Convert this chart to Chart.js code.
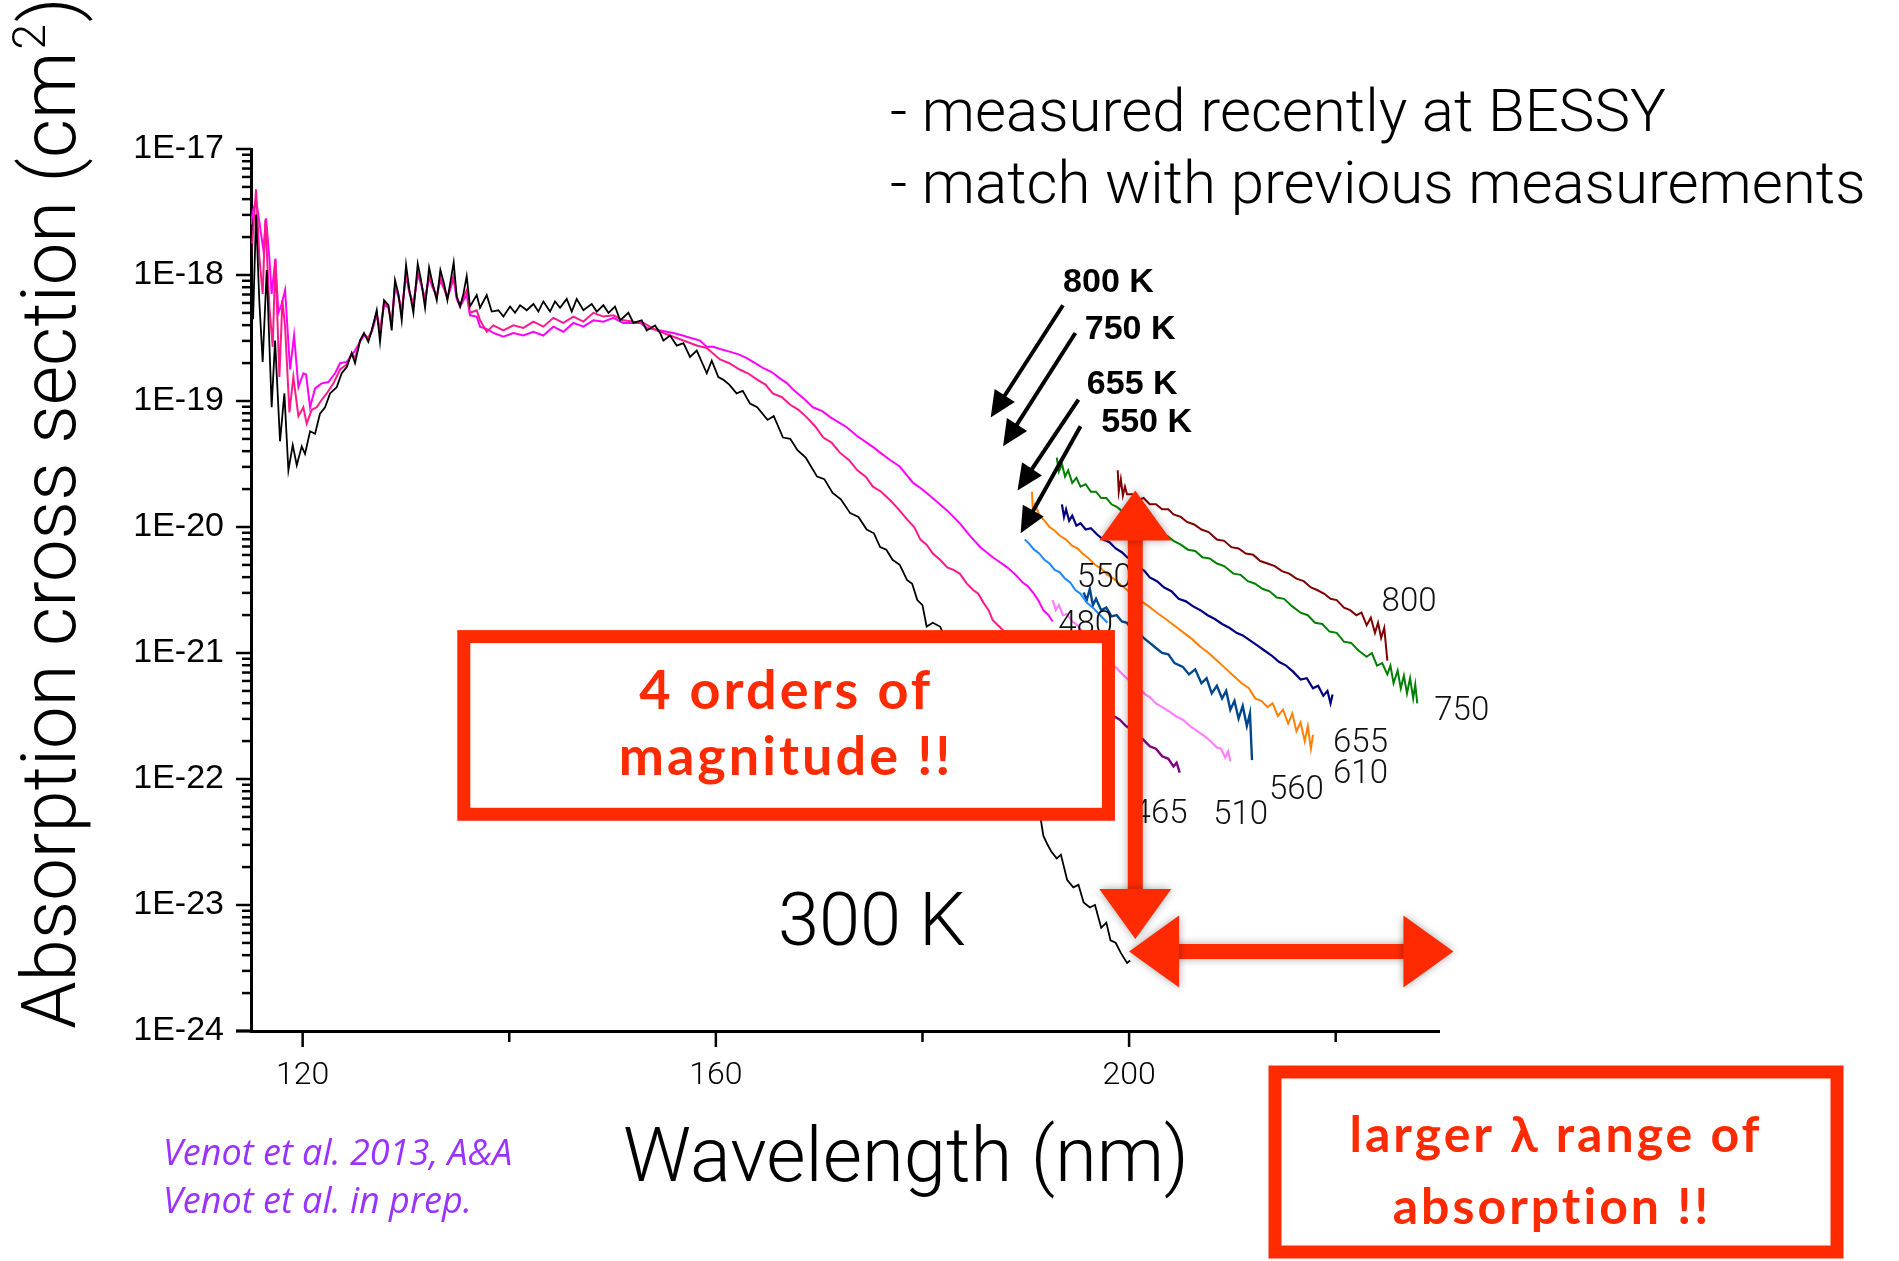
<!DOCTYPE html>
<html>
<head>
<meta charset="utf-8">
<script src="https://cdn.jsdelivr.net/npm/chart.js@4.4.1/dist/chart.umd.min.js"></script>
<style>
  body { margin: 0; background: #fff; }
  #wrap { width: 1899px; height: 1261px; position: relative; }
</style>
</head>
<body>
<div id="wrap"><canvas id="c"></canvas></div>
<script>
// wavelength (nm), log10(cross section / cm2)
const k300 = [[115.0,-17.75],[115.07,-18.20],[115.2,-18.35],[115.49,-17.52],[115.8,-18.2],[116.13,-18.69],[116.52,-17.96],[117.0,-19.05],[117.33,-18.52],[117.81,-19.32],[118.23,-18.94],[118.62,-19.55],[119.04,-19.35],[119.43,-19.51],[119.91,-19.36],[120.23,-19.42],[120.72,-19.24],[121.2,-19.26],[121.68,-19.10],[122.17,-19.05],[122.65,-18.94],[123.3,-18.89],[123.78,-18.78],[124.27,-18.73],[124.75,-18.62],[125.07,-18.70],[125.56,-18.52],[125.94,-18.46],[126.36,-18.53],[126.69,-18.44],[127.17,-18.28],[127.49,-18.53],[127.88,-18.20],[128.30,-18.24],[128.62,-18.44],[128.94,-18.04],[129.27,-18.15],[129.59,-18.36],[130.01,-17.92],[130.33,-18.12],[130.72,-18.30],[131.14,-17.91],[131.46,-18.04],[131.85,-18.26],[132.24,-17.94],[132.59,-18.07],[132.98,-18.20],[133.33,-17.96],[133.69,-18.07],[134.01,-18.20],[134.62,-17.90],[134.91,-18.17],[135.24,-18.25],[135.56,-18.15],[135.88,-18.01],[136.2,-18.25],[136.85,-18.16],[137.17,-18.26],[137.82,-18.16],[138.3,-18.29],[138.95,-18.28],[139.43,-18.33],[140.08,-18.25],[140.56,-18.30],[141.05,-18.24],[141.69,-18.28],[142.34,-18.23],[142.82,-18.29],[143.3,-18.21],[143.95,-18.29],[144.43,-18.21],[144.92,-18.26],[145.56,-18.19],[146.05,-18.29],[146.53,-18.19],[147.18,-18.28],[147.98,-18.23],[148.47,-18.29],[149.11,-18.24],[149.6,-18.30],[150.24,-18.25],[150.73,-18.36],[151.53,-18.30],[152.02,-18.38],[152.82,-18.36],[153.31,-18.44],[154.11,-18.40],[154.6,-18.46],[154.92,-18.52],[155.57,-18.48],[156.21,-18.56],[156.86,-18.54],[157.5,-18.65],[158.15,-18.60],[159.12,-18.78],[159.6,-18.68],[160.24,-18.81],[160.7,-18.83],[161.3,-18.87],[162.0,-18.94],[162.6,-18.92],[163.3,-19.02],[164.0,-19.05],[165.0,-19.15],[165.6,-19.12],[166.5,-19.29],[167.2,-19.30],[167.9,-19.39],[168.7,-19.45],[169.8,-19.60],[170.5,-19.62],[171.3,-19.73],[172.1,-19.78],[173.0,-19.89],[173.8,-19.92],[174.6,-20.02],[175.3,-20.05],[175.9,-20.16],[176.5,-20.18],[177.1,-20.26],[177.8,-20.30],[178.5,-20.42],[179.0,-20.45],[179.5,-20.58],[180.0,-20.62],[180.4,-20.79],[181.0,-20.76],[181.7,-20.79],[182.0,-20.84],[183,-20.98],[184,-21.14],[185,-21.27],[186,-21.46],[187,-21.61],[188,-21.82],[189,-21.96],[190,-22.16],[190.9,-22.30],[191.3,-22.24],[191.7,-22.45],[192.1,-22.52],[192.5,-22.58],[193.0,-22.63],[193.4,-22.60],[194.0,-22.80],[194.6,-22.86],[195.1,-22.84],[195.6,-22.98],[196.2,-23.02],[196.7,-23.00],[197.3,-23.18],[197.8,-23.14],[198.2,-23.28],[198.7,-23.30],[199.2,-23.38],[199.8,-23.46],[200.1,-23.44]];

const kPink = [[115.0,-17.9],[115.17,-17.70],[115.49,-17.32],[115.81,-17.86],[116.13,-18.15],[116.39,-17.56],[116.78,-18.25],[117.1,-18.57],[117.36,-17.88],[117.75,-18.81],[118.04,-18.20],[118.3,-18.41],[118.72,-19.09],[119.1,-18.81],[119.59,-19.12],[120.07,-19.05],[120.39,-19.18],[120.88,-19.07],[121.36,-19.05],[121.85,-18.99],[122.33,-18.94],[122.98,-18.86],[123.62,-18.75],[124.27,-18.71],[124.75,-18.62],[125.07,-18.66],[125.56,-18.52],[125.94,-18.47],[126.36,-18.50],[126.69,-18.44],[127.17,-18.30],[127.49,-18.45],[127.88,-18.22],[128.30,-18.25],[128.62,-18.38],[128.94,-18.08],[129.27,-18.16],[129.59,-18.30],[130.01,-17.98],[130.33,-18.13],[130.72,-18.24],[131.14,-17.98],[131.46,-18.06],[131.85,-18.20],[132.24,-18.00],[132.59,-18.09],[132.98,-18.17],[133.33,-18.02],[133.69,-18.10],[134.01,-18.18],[134.62,-18.00],[134.91,-18.17],[135.24,-18.24],[135.56,-18.18],[135.88,-18.12],[136.2,-18.30],[136.85,-18.28],[137.17,-18.36],[137.82,-18.45],[138.46,-18.40],[139.43,-18.44],[140.4,-18.40],[141.37,-18.42],[142.34,-18.37],[143.3,-18.41],[144.27,-18.34],[145.24,-18.38],[146.21,-18.33],[147.18,-18.37],[148.14,-18.30],[149.11,-18.33],[150.08,-18.32],[151.05,-18.36],[152.02,-18.37],[152.98,-18.38],[154.27,-18.44],[155.57,-18.48],[156.86,-18.52],[158.15,-18.56],[159.12,-18.58],[160.4,-18.67],[161.3,-18.70],[162.3,-18.75],[163.1,-18.78],[164.0,-18.83],[164.8,-18.87],[165.5,-18.94],[166.4,-18.97],[167.2,-19.03],[168.0,-19.07],[168.8,-19.13],[169.6,-19.20],[170.4,-19.29],[171.2,-19.33],[172.0,-19.41],[172.9,-19.47],[173.7,-19.55],[174.5,-19.60],[175.2,-19.68],[176.0,-19.72],[176.9,-19.79],[177.7,-19.86],[178.5,-19.94],[179.2,-20.00],[179.8,-20.10],[180.4,-20.14],[181.0,-20.21],[181.7,-20.26],[182.4,-20.32],[183.0,-20.34],[183.6,-20.37],[184.3,-20.45],[184.9,-20.50],[185.4,-20.53],[185.9,-20.60],[186.4,-20.66],[186.8,-20.74],[187.3,-20.78],[187.8,-20.82],[188.5,-20.88],[189.2,-20.95],[190.0,-21.02]];

const kMagenta = [[115.0,-17.6],[115.17,-17.50],[115.49,-17.40],[115.88,-17.62],[116.2,-17.80],[116.46,-17.55],[116.78,-17.87],[117.0,-18.15],[117.36,-17.87],[117.65,-18.30],[117.97,-18.23],[118.3,-18.12],[118.78,-18.75],[119.17,-18.48],[119.59,-18.89],[120.07,-18.78],[120.33,-18.79],[120.72,-19.05],[121.2,-18.90],[121.85,-18.86],[122.49,-18.85],[123.14,-18.78],[123.62,-18.70],[124.27,-18.69],[125.07,-18.60],[125.56,-18.53],[125.94,-18.48],[126.36,-18.50],[126.69,-18.45],[127.17,-18.32],[127.49,-18.44],[127.88,-18.24],[128.30,-18.26],[128.62,-18.37],[128.94,-18.10],[129.27,-18.17],[129.59,-18.29],[130.01,-18.00],[130.33,-18.14],[130.72,-18.23],[131.14,-18.00],[131.46,-18.07],[131.85,-18.19],[132.24,-18.02],[132.59,-18.10],[132.98,-18.17],[133.33,-18.04],[133.69,-18.11],[134.01,-18.18],[134.62,-18.03],[134.91,-18.19],[135.24,-18.25],[135.56,-18.20],[135.88,-18.16],[136.2,-18.32],[136.85,-18.33],[137.17,-18.41],[137.82,-18.43],[138.46,-18.46],[139.43,-18.49],[140.4,-18.46],[141.37,-18.48],[142.34,-18.45],[143.3,-18.48],[144.27,-18.41],[145.24,-18.45],[146.21,-18.38],[147.18,-18.41],[148.14,-18.36],[149.11,-18.37],[150.08,-18.34],[151.05,-18.38],[152.02,-18.38],[152.7,-18.38],[153.31,-18.42],[154.6,-18.44],[155.89,-18.46],[156.8,-18.48],[157.18,-18.49],[158.47,-18.52],[159.1,-18.57],[159.76,-18.57],[160.5,-18.59],[161.4,-18.61],[162.2,-18.63],[163.0,-18.66],[163.8,-18.70],[164.6,-18.74],[165.4,-18.77],[166.2,-18.82],[166.9,-18.86],[167.5,-18.91],[168.5,-18.98],[169.4,-19.05],[170.3,-19.08],[171.1,-19.13],[171.9,-19.17],[172.7,-19.21],[173.7,-19.28],[174.6,-19.33],[175.3,-19.37],[175.9,-19.41],[176.9,-19.47],[177.8,-19.52],[178.5,-19.59],[179.1,-19.65],[179.8,-19.69],[180.4,-19.73],[181.4,-19.80],[182.4,-19.87],[183.0,-19.92],[183.6,-19.97],[184.6,-20.07],[185.6,-20.16],[186.2,-20.20],[186.8,-20.24],[187.5,-20.28],[188.2,-20.32],[188.9,-20.37],[189.7,-20.44],[190.2,-20.47],[190.7,-20.52],[191.2,-20.58],[191.7,-20.66],[192.2,-20.70],[192.6,-20.75]];

const k750 = [[193.0,-19.45],[193.2,-19.56],[193.5,-19.50],[193.8,-19.60],[194.1,-19.55],[194.5,-19.65],[194.9,-19.61],[195.3,-19.68],[195.8,-19.66],[196.3,-19.72],[196.8,-19.72],[197.3,-19.77],[197.8,-19.77],[198.3,-19.82],[198.8,-19.84],[199.4,-19.88],[200.0,-19.90],[200.6,-19.95],[201.2,-19.96],[201.8,-20.01],[202.4,-20.02],[203.0,-20.06],[203.7,-20.07],[204.3,-20.11],[205.0,-20.14],[205.7,-20.18],[206.4,-20.19],[207.1,-20.24],[207.8,-20.25],[208.5,-20.29],[209.2,-20.31],[210.1,-20.37],[210.8,-20.38],[211.5,-20.43],[212.2,-20.45],[212.9,-20.49],[213.6,-20.51],[214.3,-20.56],[215.0,-20.57],[215.8,-20.63],[216.6,-20.68],[217.3,-20.70],[218.0,-20.76],[218.7,-20.77],[219.4,-20.83],[220.1,-20.84],[220.8,-20.91],[221.5,-20.92],[222.2,-20.98],[223.0,-21.03],[223.5,-21.00],[224.0,-21.10],[224.5,-21.08],[225.0,-21.17],[225.3,-21.10],[225.6,-21.24],[226.0,-21.14],[226.3,-21.28],[226.6,-21.18],[226.9,-21.32],[227.2,-21.20],[227.5,-21.36],[227.7,-21.25],[227.9,-21.40]];

const k800 = [[198.9,-19.55],[199.0,-19.72],[199.2,-19.62],[199.4,-19.75],[199.6,-19.68],[199.8,-19.74],[200.3,-19.74],[200.8,-19.79],[201.4,-19.77],[202.0,-19.82],[202.6,-19.82],[203.2,-19.86],[203.8,-19.86],[204.3,-19.90],[205.0,-19.92],[205.6,-19.96],[206.3,-19.98],[207.0,-20.02],[207.7,-20.04],[208.5,-20.10],[209.2,-20.11],[209.9,-20.16],[210.6,-20.17],[211.3,-20.21],[212.0,-20.22],[212.7,-20.27],[213.4,-20.29],[214.1,-20.31],[214.8,-20.35],[215.5,-20.37],[216.2,-20.41],[216.9,-20.43],[217.6,-20.48],[218.2,-20.50],[218.9,-20.53],[219.5,-20.57],[220.1,-20.58],[220.8,-20.64],[221.4,-20.66],[222.0,-20.70],[222.5,-20.68],[223.0,-20.78],[223.4,-20.72],[223.8,-20.84],[224.1,-20.76],[224.4,-20.88],[224.7,-20.80],[225.0,-21.06]];

const k655 = [[193.5,-19.82],[193.7,-19.92],[193.9,-19.86],[194.2,-19.95],[194.5,-19.91],[194.9,-19.99],[195.3,-19.97],[195.8,-20.02],[196.3,-20.01],[196.9,-20.06],[197.5,-20.10],[198.1,-20.12],[198.7,-20.17],[199.3,-20.20],[199.8,-20.24],[200.4,-20.27],[201.0,-20.32],[201.5,-20.35],[202.0,-20.40],[202.7,-20.43],[203.4,-20.48],[204.1,-20.51],[204.8,-20.57],[205.5,-20.59],[206.2,-20.63],[206.9,-20.66],[207.6,-20.70],[208.3,-20.73],[209.0,-20.77],[209.7,-20.80],[210.4,-20.84],[211.0,-20.86],[211.7,-20.90],[212.4,-20.94],[213.1,-20.98],[213.8,-21.02],[214.5,-21.07],[215.2,-21.10],[215.9,-21.15],[216.6,-21.21],[217.2,-21.20],[217.8,-21.28],[218.3,-21.26],[218.8,-21.34],[219.2,-21.30],[219.5,-21.40],[219.7,-21.33]];

const k610 = [[190.6,-19.72],[190.7,-19.90],[190.9,-19.82],[191.3,-19.90],[191.8,-19.95],[192.3,-20.00],[192.8,-20.03],[193.3,-20.07],[193.9,-20.10],[194.5,-20.15],[195.0,-20.17],[195.5,-20.21],[196.1,-20.25],[196.7,-20.30],[197.3,-20.33],[197.9,-20.38],[198.5,-20.41],[199.2,-20.46],[199.8,-20.50],[200.5,-20.55],[201.2,-20.59],[201.9,-20.63],[202.7,-20.68],[203.7,-20.74],[204.5,-20.79],[205.3,-20.84],[206.1,-20.89],[206.9,-20.95],[207.7,-21.00],[208.5,-21.06],[209.3,-21.12],[210.1,-21.18],[210.9,-21.24],[211.6,-21.28],[212.2,-21.36],[212.8,-21.38],[213.4,-21.43],[213.9,-21.40],[214.4,-21.50],[214.9,-21.45],[215.4,-21.56],[215.8,-21.48],[216.2,-21.62],[216.6,-21.55],[217.0,-21.70],[217.3,-21.58],[217.6,-21.76],[217.8,-21.65]];

const k550 = [[189.9,-20.10],[190.3,-20.13],[190.8,-20.18],[191.3,-20.21],[191.8,-20.26],[192.3,-20.29],[192.8,-20.34],[193.3,-20.36],[193.8,-20.41],[194.3,-20.44],[194.8,-20.50],[195.3,-20.53],[195.9,-20.60],[196.5,-20.64],[197.2,-20.70],[197.9,-20.76]];

const k560 = [[195.6,-20.52],[195.9,-20.58],[196.2,-20.49],[196.5,-20.62],[196.8,-20.57],[197.3,-20.66],[197.8,-20.64],[198.3,-20.71],[198.8,-20.70],[199.3,-20.75],[199.8,-20.76],[200.3,-20.82],[200.8,-20.83],[201.4,-20.88],[202.0,-20.92],[202.6,-20.96],[203.2,-21.00],[203.8,-21.01],[204.4,-21.08],[205.2,-21.11],[205.8,-21.17],[206.4,-21.13],[207.0,-21.24],[207.5,-21.20],[208.0,-21.32],[208.5,-21.26],[209.0,-21.36],[209.4,-21.30],[209.8,-21.45],[210.2,-21.38],[210.6,-21.52],[211.0,-21.42],[211.4,-21.58],[211.7,-21.48],[211.9,-21.85]];

const k510 = [[192.6,-20.58],[192.9,-20.66],[193.2,-20.62],[193.6,-20.70],[194.0,-20.69],[194.5,-20.75],[195.0,-20.78],[195.6,-20.84],[196.2,-20.90],[196.8,-20.95],[197.4,-21.01],[198.2,-21.08],[198.8,-21.12],[199.5,-21.18],[200.3,-21.24],[201.0,-21.28],[201.6,-21.33],[202.0,-21.35],[202.6,-21.40],[203.2,-21.43],[203.8,-21.46],[204.5,-21.50],[205.2,-21.53],[205.9,-21.58],[206.6,-21.62],[207.3,-21.66],[207.9,-21.70],[208.5,-21.75],[208.9,-21.76],[209.3,-21.83],[209.6,-21.78],[209.8,-21.86]];

const k465 = [[195.0,-21.25],[195.8,-21.31],[196.6,-21.36],[197.3,-21.41],[197.9,-21.45],[198.5,-21.50],[199.1,-21.53],[199.7,-21.58],[200.3,-21.61],[201.0,-21.66],[201.4,-21.69],[202.0,-21.74],[202.6,-21.76],[203.2,-21.82],[203.8,-21.84],[204.3,-21.90],[204.6,-21.87],[204.9,-21.95]];

const yDecades = [-24, -23, -22, -21, -20, -19, -18, -17];
const xTicks = [120, 140, 160, 180, 200, 220];
const xLabels = [120, 160, 200];

// end labels [text, nm, log10 value]
const curveLabels = [['800',227.1,-20.60],['750',232.2,-21.47],['655',222.4,-21.72],['610',222.4,-21.97],['560',216.2,-22.09],['510',210.8,-22.29],['465',203.0,-22.28],['550',197.6,-20.41],['480',195.8,-20.78]];
const tempLabels = [['800 K',198.0,-18.06],['750 K',200.1,-18.43],['655 K',200.3,-18.87],['550 K',201.7,-19.17]];
// black arrows: tail nm, tail log, tip nm, tip log
const tempArrows = [[193.6,-18.24,186.6,-19.13],[194.8,-18.46,187.8,-19.36],[195.1,-18.99,189.2,-19.71],[195.3,-19.20,189.5,-20.05]];

const RED = '#ff2a00';
const LIGHT = "'Roboto', 'Liberation Sans', sans-serif";

function pts(arr) {
  return arr.map(p => ({ x: p[0], y: Math.pow(10, p[1]) }));
}

function line(label, arr, color, w) {
  return { label: label, data: pts(arr), borderColor: color, backgroundColor: color, borderWidth: w, pointRadius: 0, showLine: true, tension: 0 };
}

function arrowHead(ctx, x1, y1, x2, y2, len, half) {
  const a = Math.atan2(y2 - y1, x2 - x1);
  ctx.beginPath();
  ctx.moveTo(x2, y2);
  ctx.lineTo(x2 - len * Math.cos(a) + half * Math.sin(a), y2 - len * Math.sin(a) - half * Math.cos(a));
  ctx.lineTo(x2 - len * Math.cos(a) - half * Math.sin(a), y2 - len * Math.sin(a) + half * Math.cos(a));
  ctx.closePath();
  ctx.fill();
}

function redArrow(ctx, x1, y1, x2, y2) {
  const a = Math.atan2(y2 - y1, x2 - x1);
  const len = 50;
  ctx.beginPath();
  ctx.moveTo(x1 + len * 0.6 * Math.cos(a), y1 + len * 0.6 * Math.sin(a));
  ctx.lineTo(x2 - len * 0.6 * Math.cos(a), y2 - len * 0.6 * Math.sin(a));
  ctx.stroke();
  arrowHead(ctx, x1, y1, x2, y2, len, 36);
  arrowHead(ctx, x2, y2, x1, y1, len, 36);
}

const notes = {
  id: 'notes',
  afterDatasetsDraw(chart) {
    const ctx = chart.ctx;
    const xs = chart.scales.x, ys = chart.scales.y;
    const px = v => xs.getPixelForValue(v);
    const py = e => ys.getPixelForValue(Math.pow(10, e));

    // ticks drawn by hand (major / minor)
    ctx.save();
    ctx.strokeStyle = '#000';
    ctx.lineWidth = 2.5;
    const left = chart.chartArea.left, bottom = chart.chartArea.bottom;
    yDecades.forEach(e => {
      ctx.beginPath(); ctx.moveTo(left - 15, py(e)); ctx.lineTo(left, py(e)); ctx.stroke();
      if (e < -17) {
        for (let k = 2; k <= 9; k++) {
          const yy = py(e + Math.log10(k));
          ctx.beginPath(); ctx.moveTo(left - 9, yy); ctx.lineTo(left, yy); ctx.stroke();
        }
      }
    });
    xTicks.forEach(v => {
      const l = xLabels.includes(v) ? 16 : 11;
      ctx.beginPath(); ctx.moveTo(px(v), bottom); ctx.lineTo(px(v), bottom + l); ctx.stroke();
    });
    ctx.lineWidth = 3;
    ctx.beginPath(); ctx.moveTo(left - 15, bottom); ctx.lineTo(left, bottom); ctx.stroke();
    ctx.restore();

    // curve labels
    ctx.save();
    ctx.fillStyle = '#111';
    ctx.font = '300 33px ' + LIGHT;
    ctx.textAlign = 'center';
    ctx.textBaseline = 'middle';
    curveLabels.forEach(l => ctx.fillText(l[0], px(l[1]), py(l[2])));

    // "4 orders of magnitude" box
    const bx1 = px(135.6), bx2 = px(198.0), by1 = py(-20.87), by2 = py(-22.28);
    ctx.fillStyle = '#fff';
    ctx.fillRect(bx1, by1, bx2 - bx1, by2 - by1);
    ctx.strokeStyle = RED;
    ctx.lineWidth = 13;
    ctx.strokeRect(bx1, by1, bx2 - bx1, by2 - by1);
    ctx.fillStyle = RED;
    ctx.font = 'bold 54px Lato, sans-serif';
    ctx.letterSpacing = '3px';
    ctx.fillText('4 orders of', (bx1 + bx2) / 2, py(-21.31));
    ctx.fillText('magnitude !!', (bx1 + bx2) / 2, py(-21.83));
    ctx.letterSpacing = '0px';

    // 300 K
    ctx.fillStyle = '#000';
    ctx.font = '300 74px ' + LIGHT;
    ctx.fillText('300 K', px(175.1), py(-23.17));

    // red double arrows
    ctx.shadowColor = 'rgba(0,0,0,0.35)';
    ctx.shadowBlur = 8;
    ctx.strokeStyle = RED;
    ctx.fillStyle = RED;
    ctx.lineWidth = 15;
    redArrow(ctx, px(200.6), py(-23.27), px(200.6), py(-19.71));
    redArrow(ctx, px(200.0), py(-23.37), px(231.4), py(-23.37));
    ctx.shadowBlur = 0;
    ctx.shadowColor = 'transparent';

    // temperature arrows and labels
    ctx.strokeStyle = '#000';
    ctx.fillStyle = '#000';
    ctx.lineWidth = 4;
    tempArrows.forEach(a => {
      const x1 = px(a[0]), y1 = py(a[1]), x2 = px(a[2]), y2 = py(a[3]);
      const ang = Math.atan2(y2 - y1, x2 - x1);
      ctx.beginPath();
      ctx.moveTo(x1, y1);
      ctx.lineTo(x2 - 18 * Math.cos(ang), y2 - 18 * Math.sin(ang));
      ctx.stroke();
      arrowHead(ctx, x1, y1, x2, y2, 26, 12);
    });
    ctx.font = "bold 34px 'Liberation Sans', Arial, sans-serif";
    tempLabels.forEach(l => ctx.fillText(l[0], px(l[1]), py(l[2])));
    ctx.restore();
  },
  afterDraw(chart) {
    const ctx = chart.ctx;
    ctx.save();
    ctx.fillStyle = '#000';
    // axis titles
    ctx.font = '300 76px ' + LIGHT;
    ctx.textAlign = 'center';
    ctx.textBaseline = 'alphabetic';
    ctx.fillText('Wavelength (nm)', 906, 1181);
    ctx.save();
    ctx.translate(75, 1029);
    ctx.rotate(-Math.PI / 2);
    ctx.textAlign = 'left';
    const main = 'Absorption cross section (cm';
    ctx.fillText(main, 0, 0);
    let w = ctx.measureText(main).width;
    ctx.font = '300 46px ' + LIGHT;
    ctx.fillText('2', w + 2, -30);
    w += ctx.measureText('2').width + 4;
    ctx.font = '300 76px ' + LIGHT;
    ctx.fillText(')', w, 0);
    ctx.restore();

    // bullets top right
    ctx.textAlign = 'left';
    ctx.font = '300 60px ' + LIGHT;
    ctx.fillText('- measured recently at BESSY', 890, 131);
    ctx.fillText('- match with previous measurements', 890, 203);

    // references
    ctx.fillStyle = '#9933ff';
    ctx.font = "italic 36px 'Open Sans', sans-serif";
    ctx.fillText('Venot et al. 2013, A&A', 163, 1165);
    ctx.fillText('Venot et al. in prep.', 163, 1213);

    // larger lambda box
    ctx.strokeStyle = RED;
    ctx.lineWidth = 13;
    ctx.strokeRect(1275, 1072, 562, 180);
    ctx.fillStyle = RED;
    ctx.textAlign = 'center';
    ctx.textBaseline = 'middle';
    ctx.font = 'bold 50px Lato, sans-serif';
    ctx.letterSpacing = '3px';
    ctx.fillText('larger \u03bb range of', 1556, 1136);
    ctx.fillText('absorption !!', 1552, 1208);
    ctx.restore();
  }
};

new Chart(document.getElementById('c').getContext('2d'), {
  type: 'scatter',
  data: {
    datasets: [
      line('300 K', k300, '#000000', 1.8),
      line('pink', kPink, '#ff1a8c', 2),
      line('magenta', kMagenta, '#ff00ff', 2),
      line('800', k800, '#800000', 2),
      line('750', k750, '#008000', 2),
      line('655', k655, '#000080', 2.2),
      line('610', k610, '#ff8000', 2),
      line('550', k550, '#1e88ff', 2),
      line('560', k560, '#00468c', 2.4),
      line('510', k510, '#ff80ff', 2.2),
      line('465', k465, '#800080', 2.4)
    ]
  },
  plugins: [notes],
  options: {
    responsive: true,
    maintainAspectRatio: false,
    animation: false,
    events: [],
    layout: { padding: { top: 149, right: 460, bottom: 0, left: 0 } },
    plugins: { legend: { display: false }, tooltip: { enabled: false } },
    scales: {
      x: {
        type: 'linear',
        min: 115,
        max: 230,
        afterFit: s => { s.height = 230; },
        afterBuildTicks: s => { s.ticks = xTicks.map(v => ({ value: v })); },
        ticks: {
          autoSkip: false,
          maxRotation: 0,
          padding: 26,
          color: '#000',
          font: { family: "'Roboto', sans-serif", size: 32, weight: '300' },
          callback: v => (xLabels.includes(v) ? String(v) : '')
        },
        grid: { display: false, drawTicks: false },
        border: { display: true, color: '#000', width: 3 }
      },
      y: {
        type: 'logarithmic',
        min: 1e-24,
        max: 1e-17,
        afterFit: s => { s.width = 251; },
        afterBuildTicks: s => { s.ticks = yDecades.map(e => ({ value: Math.pow(10, e) })); },
        ticks: {
          autoSkip: false,
          padding: 27,
          color: '#000',
          font: { family: "'Liberation Sans', Arial, sans-serif", size: 34 },
          callback: v => '1E' + Math.round(Math.log10(v))
        },
        grid: { display: false, drawTicks: false },
        border: { display: true, color: '#000', width: 3 }
      }
    }
  }
});
</script>
</body>
</html>
